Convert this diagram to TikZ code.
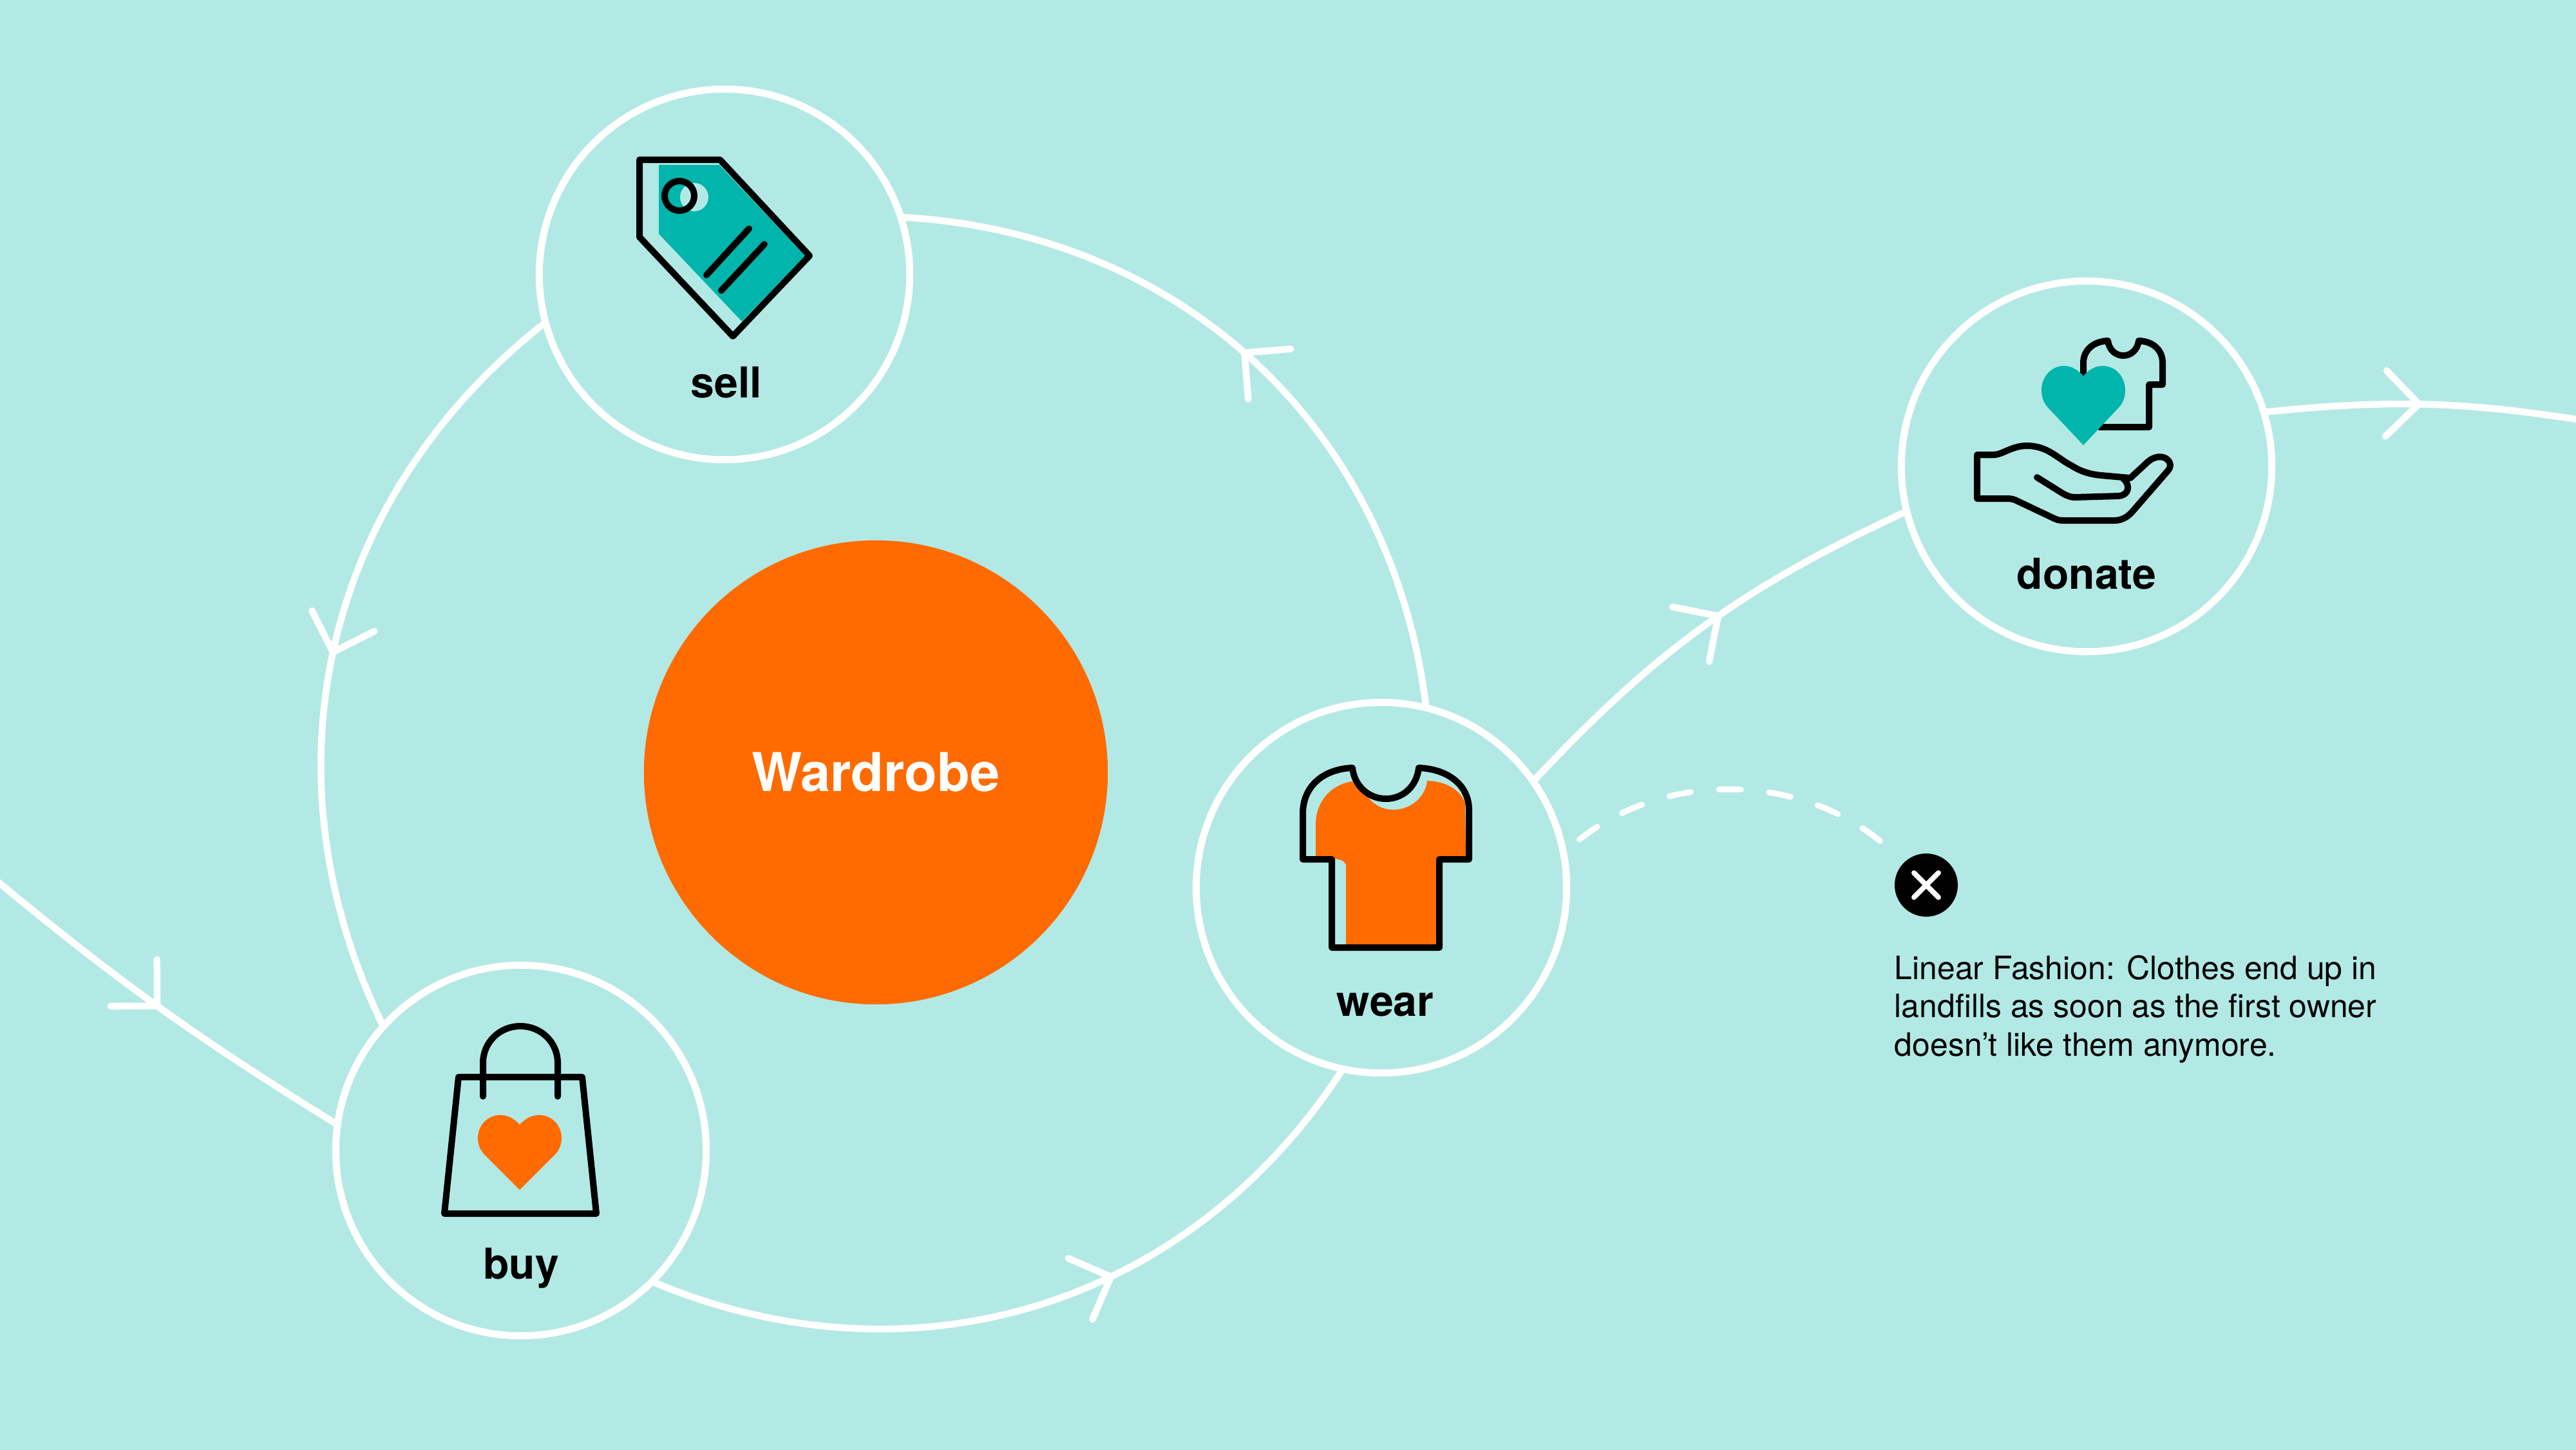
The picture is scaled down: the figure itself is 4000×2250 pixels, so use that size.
\documentclass[tikz,border=0pt]{standalone}
\usepackage{fontspec}
\setmainfont{TeX Gyre Heros}
\usetikzlibrary{decorations.markings}

\definecolor{bgmint}{HTML}{B2E9E5}
\definecolor{wearorange}{HTML}{FF6B00}
\definecolor{tagteal}{HTML}{00B5AB}

% heart icon: x of the notch, y of the lobe tops, colour, y stretch
\newcommand{\heartfill}[4]{
  \fill[#3,shift={(#1,#2)},yscale=#4]
    (0,15) .. controls (-8,6) and (-18,0) .. (-30,0)
    .. controls (-50,0) and (-65,16) .. (-65,36)
    .. controls (-65,46) and (-61,55) .. (-55,61) -- (0,116) -- (55,61)
    .. controls (61,55) and (65,46) .. (65,36)
    .. controls (65,16) and (50,0) .. (30,0)
    .. controls (18,0) and (8,6) .. (0,15) -- cycle;
}

\begin{document}
\begin{tikzpicture}[x=0.01cm,y=-0.01cm,
                    station/.style={circle,draw=white,line width=1.1mm,minimum size=5.75cm,inner sep=0pt,outer sep=0pt},
                    caption/.style={font=\bfseries\fontsize{18.8}{22}\selectfont,text=black,inner sep=0pt},
                    flow/.style={draw=white,line width=1.05mm},
                    barb/.style={draw=white,line width=1.05mm,line cap=round,line join=miter},
                    tipat/.style 2 args={postaction={decorate,decoration={markings,
                      mark=at position #1 with {\draw[barb,rotate=#2] (-51,51) -- (0,0) -- (-51,-51);}}}},
                    icon/.style={draw=black,line width=1mm,line join=round,line cap=round}]

  \useasboundingbox (0,0) rectangle (4000,2250);
  \fill[bgmint] (-10,-10) rectangle (4010,2260);

  \node[circle,fill=wearorange,minimum size=7.2cm,inner sep=0pt,text=white,
        font=\bfseries\fontsize{23.6}{28}\selectfont] (wardrobe) at (1360,1199) {Wardrobe};

  \node[station] (sell)   at (1125,426)  {};
  \node[station] (buy)    at (809,1786)  {};
  \node[station] (wear)   at (2145,1378) {};
  \node[station] (donate) at (3240,724)  {};

  \node[caption] (selltext)   at (1128,594)  {sell};
  \node[caption] (buytext)    at (809,1969)  {buy};
  \node[caption] (weartext)   at (2151,1560) {wear};
  \node[caption] (donatetext) at (3240,891)  {donate};

  \coordinate (entry) at (-20,1355);
  \coordinate (exit)  at (4020,654);

  % closed loop round the wardrobe
  \draw[flow,tipat={0.6}{-4}]   (buy.315)  to[bend right=40] (wear.258);
  \draw[flow,tipat={0.52}{1}]   (wear.76)  to[bend right=40] (sell.18);
  \draw[flow,tipat={0.51}{-6}]  (sell.195) to[bend right=39] (buy.138);

  % linear way through
  \draw[flow,tipat={0.5}{-9}]   (entry)    to[bend right=4]  (buy.172);
  \draw[flow,tipat={0.535}{-1}] (wear.35)  to[bend left=11]  (donate.194);
  \draw[flow,tipat={0.476}{0}]  (donate.17) to[bend left=7.5] (exit);

  % landfill branch
  \node[circle,fill=black,minimum size=0.98cm,inner sep=0pt] (landfill) at (2991,1374) {};
  \draw[white,line width=0.8mm,line cap=round] ([shift={(-19,-19)}]landfill.center) -- ([shift={(19,19)}]landfill.center);
  \draw[white,line width=0.8mm,line cap=round] ([shift={(19,-19)}]landfill.center) -- ([shift={(-19,19)}]landfill.center);
  \draw[flow,line width=0.9mm,line cap=round,dash pattern=on 0.34cm off 0.44cm,shorten <=0.32cm,shorten >=0.36cm]
    (wear.11) to[bend left=40] (landfill.134);

  \node[anchor=north west,align=left,inner sep=0pt,text=black,font=\fontsize{14.2}{17}\selectfont] (note) at (2941,1482)
    {Linear Fashion: Clothes end up in\\landfills as soon as the first owner\\doesn’t like them anymore.};

  % tag
  \fill[tagteal] (1023,256) -- (1117,256) -- (1250,397) -- (1152,499) -- (1023,363) -- cycle;
  \fill[bgmint] (1078,306) circle[radius=22];
  \draw[icon] (993,248) -- (1118,248) -- (1257,397) -- (1138,522) -- (993,368) -- cycle;
  \draw[icon] (1055,304) circle[radius=23];
  \draw[icon] (1097,427) -- (1163,355);
  \draw[icon] (1120,451) -- (1187,379);

  % bag
  \heartfill{807}{1731}{wearorange}{1}
  \draw[icon] (712,1672) -- (904,1672) -- (926,1884) -- (690,1884) -- cycle;
  \draw[icon] (750,1702) -- (750,1650) .. controls (750,1618) and (776,1593) .. (808,1593)
    .. controls (840,1593) and (866,1618) .. (866,1650) -- (866,1702);

  % shirt
  \fill[wearorange] (2043,1330) -- (2043,1280) .. controls (2043,1245) and (2066,1218) .. (2100,1213)
    -- (2122,1235) .. controls (2133,1250) and (2148,1257) .. (2163,1257)
    .. controls (2192,1257) and (2214,1236) .. (2216,1212)
    .. controls (2245,1213) and (2268,1226) .. (2275,1247) -- (2276,1330) -- (2231,1333) -- (2231,1467)
    -- (2090,1467) -- (2090,1342) -- (2085,1336) -- (2063,1330) -- cycle;
  \draw[icon] (2100,1192) .. controls (2103,1220) and (2125,1240) .. (2152,1240)
    .. controls (2179,1240) and (2200,1220) .. (2203,1192)
    .. controls (2250,1194) and (2281,1220) .. (2281,1257) -- (2281,1334) -- (2235,1334) -- (2235,1471)
    -- (2068,1471) -- (2068,1334) -- (2023,1334) -- (2023,1263)
    .. controls (2023,1222) and (2053,1194) .. (2100,1192) -- cycle;

  % shirt, heart and hand
  \draw[icon] (3235,580) -- (3235,563) .. controls (3235,544) and (3250,530) .. (3273,529)
    .. controls (3275,543) and (3285,552) .. (3297,552)
    .. controls (3309,552) and (3319,543) .. (3321,529)
    .. controls (3344,530) and (3358,544) .. (3358,563) -- (3358,597) -- (3337,597) -- (3337,663) -- (3260,663);
  \heartfill{3235}{568}{tagteal}{1.06}
  \draw[icon] (3070,706) -- (3097,706) .. controls (3110,705) and (3125,692) .. (3147,692)
    .. controls (3180,692) and (3195,712) .. (3217,723)
    .. controls (3232,733) and (3250,737) .. (3263,738) -- (3308,742) -- (3335,717)
    .. controls (3345,708) and (3358,707) .. (3365,713)
    .. controls (3372,719) and (3371,725) .. (3366,731) -- (3313,792)
    .. controls (3305,802) and (3295,808) .. (3283,808) -- (3205,808)
    .. controls (3198,808) and (3194,807) .. (3190,805) -- (3133,778)
    .. controls (3128,775) and (3122,774) .. (3117,774) -- (3070,774) -- cycle;
  \draw[icon] (3163,741) -- (3203,766) .. controls (3210,770) and (3216,772) .. (3222,772) -- (3290,770)
    .. controls (3304,769) and (3310,755) .. (3297,743);

\end{tikzpicture}
\end{document}
